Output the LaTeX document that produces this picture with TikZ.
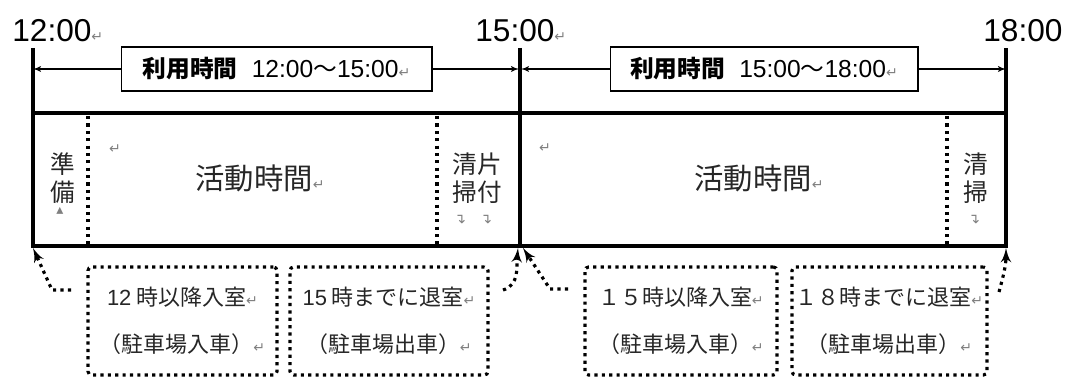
\documentclass[tikz,border=0pt]{standalone}
\usepackage{fontspec}
\setmainfont{Noto Sans CJK JP}
\newfontfamily\symfont{DejaVu Sans}
\newfontfamily\lat{Liberation Sans}
\usepackage{tikz}
\usetikzlibrary{arrows}

\newcommand{\ret}{{\symfont\color{gray}\fontsize{8}{8}\selectfont ↵}}

\begin{document}
\begin{tikzpicture}[x=0.02cm,y=-0.02cm]
        \tikzset{timelabel/.style = {anchor=base west, inner sep=0pt, font=\lat\fontsize{18}{18}\selectfont}}
        \tikzset{usebox/.style = {draw, line width=0.6pt, minimum height=0.88cm, inner sep=0pt, font=\fontsize{13.5}{13.5}\selectfont}}
        \tikzset{timeline/.style = {line width=1.9pt}}
        \tikzset{edge/.style = {-latex', line width=0.6pt}}
        \tikzset{dots/.style = {line width=1.8pt, dash pattern=on 1.8pt off 2.4pt}}
        \tikzset{dotedge/.style = {dots, -latex'}}
        \tikzset{acttext/.style = {inner sep=0pt, text=black!85, font=\fontsize{16.7}{16.7}\selectfont}}
        \tikzset{sidetext/.style = {inner sep=0pt, align=center, text=black!85, font=\fontsize{14}{16}\selectfont}}
        \tikzset{notebox/.style = {draw, dots, rounded corners=2pt, minimum height=2.16cm, inner sep=0pt, align=center, text=black!85, font=\fontsize{12.5}{26.5}\selectfont}}
        \tikzset{retmark/.style = {inner sep=0pt, text=gray, font=\symfont\fontsize{8}{8}\selectfont}}

        \useasboundingbox (0,0) rectangle (1065,378);

        \node[timelabel] (t12) at (12,42) {12:00\ret};
        \node[timelabel] (t15) at (475,42) {15:00\ret};
        \node[timelabel] (t18) at (983,42) {18:00};

        % time lines and frame
        \draw[timeline] (33,48) -- (33,246) -- (1006,246) -- (1006,48);
        \draw[timeline] (33,113) -- (1006,113);
        \draw[timeline] (520,48) -- (520,246);

        \draw[dots] (88,116) -- (88,244);
        \draw[dots] (437,116) -- (437,244);
        \draw[dots] (947,116) -- (947,244);

        \coordinate (a12) at (33,69);
        \coordinate (a15l) at (519,69);
        \coordinate (a15r) at (521,69);
        \coordinate (a18) at (1006,69);

        \node[usebox, minimum width=6.22cm] (use1) at (276.5,69) {{\bfseries 利用時間}\hspace{0.6em}{\lat\fontsize{14}{14}\selectfont 12:00}～{\lat\fontsize{14}{14}\selectfont 15:00}\ret};
        \node[usebox, minimum width=6.16cm] (use2) at (764,69) {{\bfseries 利用時間}\hspace{0.6em}{\lat\fontsize{14}{14}\selectfont 15:00}～{\lat\fontsize{14}{14}\selectfont 18:00}\ret};

        \draw[edge] (use1) -- (a12);
        \draw[edge] (use1) -- (a15l);
        \draw[edge] (use2) -- (a15r);
        \draw[edge] (use2) -- (a18);

        \node[sidetext] (prep) at (63,178) {準\\備};
        \node[acttext] (act1) at (260,178) {活動時間\ret};
        \node[sidetext] (tidy1) at (477,178) {清片\\掃付};
        \node[acttext] (act2) at (759,178) {活動時間\ret};
        \node[sidetext] (tidy2) at (976,178) {清\\掃};

        \node[retmark] (r1) at (115,149) {↵};
        \node[retmark] (r2) at (545,148) {↵};
        \node[retmark] (r3) at (60,211) {▴};
        \node[retmark, rotate=90] (r4) at (462,219) {↵};
        \node[retmark, rotate=90] (r5) at (488,219) {↵};
        \node[retmark, rotate=90] (r6) at (976,219) {↵};

        \node[notebox, minimum width=3.78cm] (in12) at (182.5,321) {{\lat 12} 時以降入室\ret\\（駐車場入車）\ret};
        \node[notebox, minimum width=3.96cm] (out15) at (389,321) {{\lat 15} 時までに退室\ret\\（駐車場出車）\ret};
        \node[notebox, minimum width=3.84cm] (in15) at (681,321) {１５時以降入室\ret\\（駐車場入車）\ret};
        \node[notebox, minimum width=3.9cm] (out18) at (889.5,321) {１８時までに退室\ret\\（駐車場出車）\ret};

        \coordinate (l12) at (33,248);
        \coordinate (l15l) at (518,248);
        \coordinate (l15r) at (523,248);
        \coordinate (l18) at (1006,248);
        \coordinate (s1) at (71,290);
        \coordinate (s2) at (503,290);
        \coordinate (s3) at (568,289);
        \coordinate (s4) at (999,292);

        \draw[dotedge] (s1) -- ++(-19,0) -- (l12);
        \draw[dotedge] (s2) to[out=15, in=-95] (l15l);
        \draw[dotedge] (s3) -- ++(-18,0) -- (l15r);
        \draw[dotedge] (s4) to[out=75, in=-90] (l18);
    \end{tikzpicture}
\end{document}
